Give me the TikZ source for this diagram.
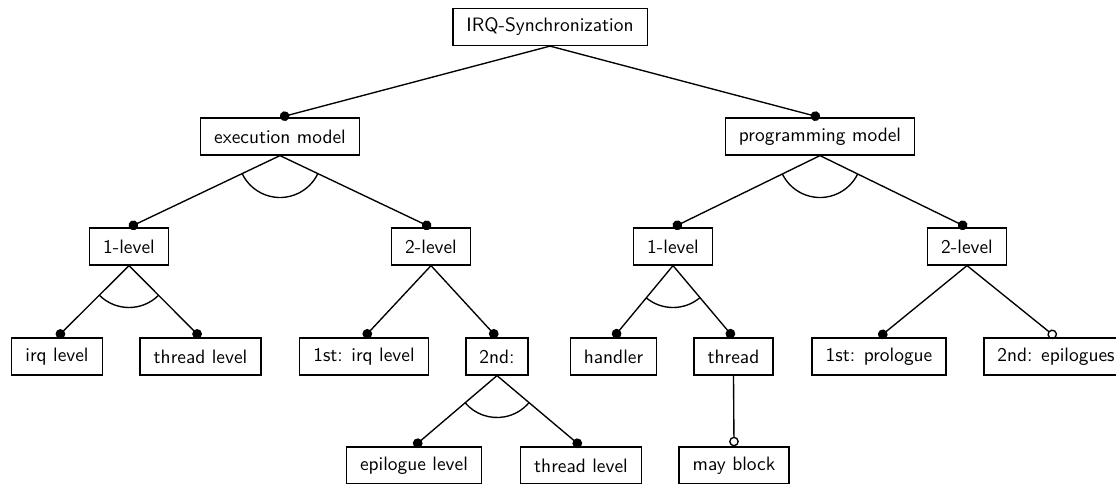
\documentclass[tikz,border=0pt]{standalone}
\usetikzlibrary{arrows.meta,calc}
\newcommand\altarc[3]{%
  \draw[conn] let \p1=($(#2.north)-(#1.south)$), \p2=($(#3.north)-(#1.south)$),
    \n1={atan2(\y1,\x1)}, \n2={atan2(\y2,\x2)} in
    ($(#1.south)+(\n1:21.6pt)$) arc[start angle=\n1,end angle=\n2,radius=21.6pt];}
\begin{document}
\begin{tikzpicture}[x=0.5155pt,y=-0.5155pt,
  feat/.style={draw,line width=0.7pt,font=\sffamily,minimum height=19pt,inner xsep=7pt,inner ysep=0pt},
  conn/.style={line width=0.7pt},
  mand/.style={conn,-{Circle[length=5pt]}},
  opt/.style={conn,-{Circle[open,length=5pt]}}]
\useasboundingbox (0,0) rectangle (1116,484);
\node[feat] (irq) at (550,27) {IRQ-Synchronization};
\node[feat] (exec) at (280,136.5) {execution model};
\node[feat] (prog) at (820,136.5) {programming model};
\node[feat] (e1) at (129,246.5) {1-level};
\node[feat] (e2) at (431,246.5) {2-level};
\node[feat] (p1) at (673,246.5) {1-level};
\node[feat] (p2) at (967,246.5) {2-level};
\node[feat] (eirq) at (57,356.5) {irq level};
\node[feat] (ethr) at (200.5,356.5) {thread level};
\node[feat] (e2a) at (364,356.5) {1st: irq level};
\node[feat] (e2b) at (497,356.5) {2nd:};
\node[feat] (ph) at (613.5,356.5) {handler};
\node[feat] (pt) at (733.5,356.5) {thread};
\node[feat] (p2a) at (879,356.5) {1st: prologue};
\node[feat] (p2b) at (1056,356.5) {2nd: epilogues};
\node[feat] (eepi) at (414,465.5) {epilogue level};
\node[feat] (ethr2) at (581,465.5) {thread level};
\node[feat] (may) at (734,465.5) {may block};
\draw[mand] (irq.south) -- (exec.north);
\draw[mand] (irq.south) -- (prog.north);
\draw[mand] (exec.south) -- (e1.north);
\draw[mand] (exec.south) -- (e2.north);
\draw[mand] (prog.south) -- (p1.north);
\draw[mand] (prog.south) -- (p2.north);
\draw[mand] (e1.south) -- (eirq.north);
\draw[mand] (e1.south) -- (ethr.north);
\draw[mand] (e2.south) -- (e2a.north);
\draw[mand] (e2.south) -- (e2b.north);
\draw[mand] (p1.south) -- (ph.north);
\draw[mand] (p1.south) -- (pt.north);
\draw[mand] (p2.south) -- (p2a.north);
\draw[opt] (p2.south) -- (p2b.north);
\draw[mand] (e2b.south) -- (eepi.north);
\draw[mand] (e2b.south) -- (ethr2.north);
\draw[opt] (pt.south) -- (may.north);
\altarc{exec}{e1}{e2}
\altarc{prog}{p1}{p2}
\altarc{e1}{eirq}{ethr}
\altarc{p1}{ph}{pt}
\altarc{e2b}{eepi}{ethr2}
\end{tikzpicture}
\end{document}
